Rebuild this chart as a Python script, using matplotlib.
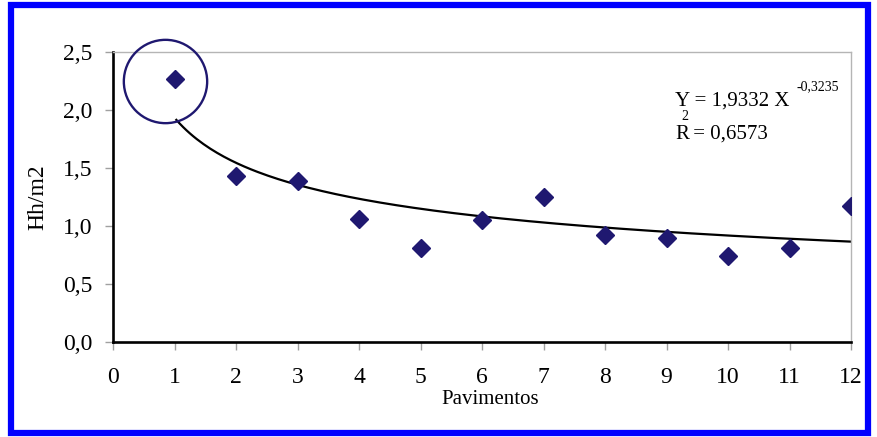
import numpy as np
import matplotlib.pyplot as plt
from matplotlib.patches import Rectangle

plt.rcParams['font.family'] = ['Liberation Serif', 'DejaVu Serif']

pavimentos = [1, 2, 3, 4, 5, 6, 7, 8, 9, 10, 11, 12]
hh_m2 = [2.27, 1.43, 1.39, 1.06, 0.81, 1.05, 1.25, 0.92, 0.90, 0.74, 0.81, 1.17]

# power trendline as given in the chart
coef_a = 1.9332
coef_b = -0.3235
r2 = 0.6573

navy = '#1f1870'

fig = plt.figure(figsize=(8.78, 4.37), dpi=100)
ax = fig.add_axes([113 / 878, 1 - 342 / 437, 738 / 878, 290 / 437])

xt = np.linspace(1.03, 12, 200)
ax.plot(xt, coef_a * xt ** coef_b, c='black', lw=1.6, zorder=2)
ax.plot(pavimentos, hh_m2, ls='none', marker='D', ms=9, c=navy, zorder=4)

# highlight circle around first point
ax.plot([0.84], [2.246], ls='none', marker='o', ms=60, mfc='none',
        mec=navy, mew=1.7, zorder=3, clip_on=False)

ax.set_xlim(0, 12)
ax.set_ylim(0, 2.5)
ax.set_xticks(range(0, 13))
ax.set_yticks([0, 0.5, 1.0, 1.5, 2.0, 2.5])
ax.set_yticklabels(['0,0', '0,5', '1,0', '1,5', '2,0', '2,5'])

for s in ['left', 'bottom']:
    ax.spines[s].set_linewidth(1.9)
    ax.spines[s].set_color('black')
for s in ['top', 'right']:
    ax.spines[s].set_linewidth(1.0)
    ax.spines[s].set_color('#b5b5b5')

ax.tick_params(axis='both', direction='out', length=6, width=1,
               color='#a0a0a0', labelsize=17)
ax.tick_params(axis='x', pad=12)
ax.tick_params(axis='y', pad=9)
ax.xaxis.get_major_ticks()[0].tick1line.set_color('black')
ax.yaxis.get_major_ticks()[0].tick1line.set_color('black')

ax.set_xlabel('Pavimentos', fontsize=15)
ax.xaxis.set_label_coords((490 - 113) / 738, (342 - 390) / 290)
ax.set_ylabel('Hh/m2', fontsize=17, labelpad=10)

fig.text(675 / 878, 1 - 106 / 437, 'Y = 1,9332 X', fontsize=15, va='baseline')
fig.text(797 / 878, 1 - 90 / 437, '-0,3235', fontsize=10, va='baseline')
fig.text(675 / 878, 1 - 139 / 437, 'R', fontsize=15, va='baseline')
fig.text(681 / 878, 1 - 120 / 437, '2', fontsize=10, va='baseline')
fig.text(688 / 878, 1 - 139 / 437, ' = 0,6573', fontsize=15, va='baseline')

fig.patches.append(Rectangle((11 / 878, 4 / 437), 857 / 878, 428 / 437,
                             transform=fig.transFigure, fill=False,
                             ec='#0000ff', lw=4.5))

fig.savefig('out.png', dpi=100)
